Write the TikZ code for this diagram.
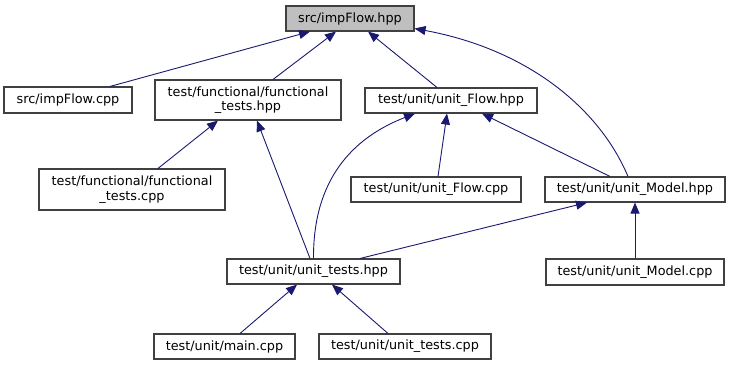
\documentclass[tikz,border=0pt]{standalone}
\usepackage{fontspec}
\setmainfont{DejaVu Sans}
\usetikzlibrary{arrows.meta}
\definecolor{edgeblue}{HTML}{191970}
\definecolor{boxline}{HTML}{404040}
\definecolor{rootfill}{HTML}{BFBFBF}
\begin{document}
\begin{tikzpicture}[x=1pt,y=-1pt,
  file/.style={draw=boxline,line width=1.1pt,fill=white,inner sep=0pt,
    minimum height=25pt,align=center,
    font=\fontsize{12.8}{14.5}\selectfont},
  root/.style={file,fill=rootfill},
  dep/.style={draw=edgeblue,line width=0.9pt,
    -{Triangle[length=11pt,width=9pt,fill=edgeblue]}}]
\useasboundingbox (0,0) rectangle (730,365);

% files
\node[root,minimum width=128pt] (hpp) at (350,18.5) {src/impFlow.hpp};
\node[file,minimum width=128pt,minimum height=26pt] (icpp) at (68,100) {src/impFlow.cpp};
\node[file,minimum width=186pt,minimum height=40pt] (fth) at (248,100) {test/functional/functional\\\_tests.hpp};
\node[file,minimum width=186pt,minimum height=41pt] (ftc) at (132,189.5) {test/functional/functional\\\_tests.cpp};
\node[file,minimum width=172pt] (ufh) at (451,100.5) {test/unit/unit\_Flow.hpp};
\node[file,minimum width=170pt] (ufc) at (436,189.5) {test/unit/unit\_Flow.cpp};
\node[file,minimum width=180pt] (umh) at (635,189.5) {test/unit/unit\_Model.hpp};
\node[file,minimum width=173pt] (uth) at (313.5,271.5) {test/unit/unit\_tests.hpp};
\node[file,minimum width=178pt,minimum height=26pt] (umc) at (635,272) {test/unit/unit\_Model.cpp};
\node[file,minimum width=141pt] (mc) at (224.5,346.5) {test/unit/main.cpp};
\node[file,minimum width=172pt] (utc) at (405,346.5) {test/unit/unit\_tests.cpp};

% include dependencies
\draw[dep] ([xshift=42pt]icpp.north) -- ([xshift=-40pt]hpp.south);
\draw[dep] ([xshift=25pt]fth.north) -- ([xshift=-14pt]hpp.south);
\draw[dep] ([xshift=-14pt]ufh.north) -- ([xshift=18pt]hpp.south);
\draw[dep] ([xshift=-7pt]umh.north) .. controls (600,110) and (530,50) .. ([yshift=-10pt]hpp.east);
\draw[dep] ([xshift=26pt]ftc.north) -- ([xshift=-30pt]fth.south);
\draw[dep] ([xshift=-3.5pt]uth.north) -- ([xshift=9pt]fth.south);
\draw[dep] (uth.north) .. controls (313,180) and (352,138) .. ([xshift=-36pt]ufh.south);
\draw[dep] ([xshift=2pt]ufc.north) -- ([xshift=-4pt]ufh.south);
\draw[dep] ([xshift=-25pt]umh.north) -- ([xshift=31pt]ufh.south);
\draw[dep] ([xshift=46.5pt]uth.north) -- ([xshift=-48pt]umh.south);
\draw[dep] (umc.north) -- (umh.south);
\draw[dep] ([xshift=15.5pt]mc.north) -- ([xshift=-16.5pt]uth.south);
\draw[dep] ([xshift=-17pt]utc.north) -- ([xshift=18.5pt]uth.south);
\end{tikzpicture}
\end{document}
